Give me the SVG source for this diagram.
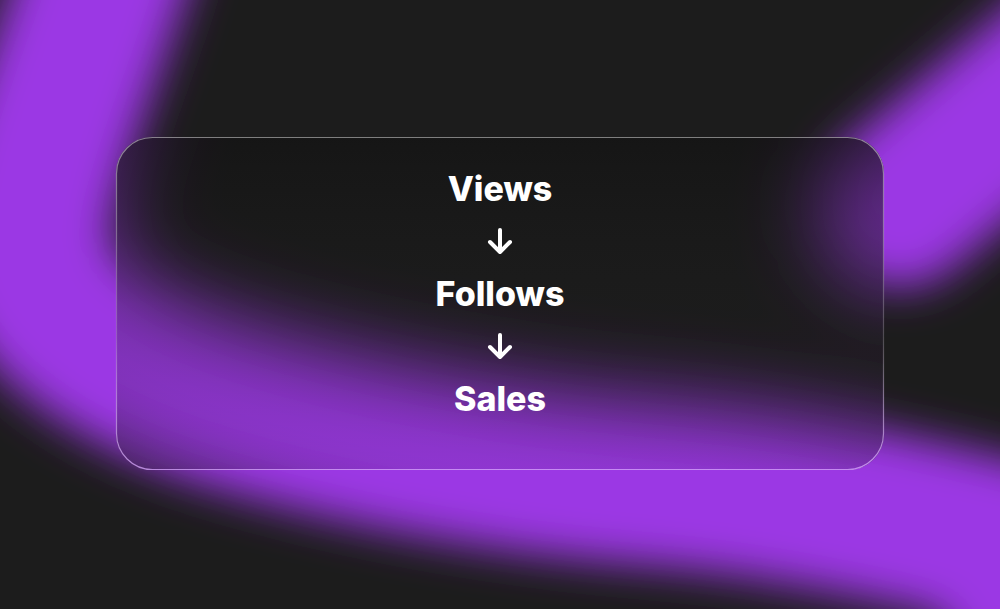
<svg xmlns="http://www.w3.org/2000/svg" width="1000" height="609" viewBox="0 0 1000 609">
  <style>
    .lbl { font-family: Inter, "Liberation Sans", sans-serif; font-weight: 800; font-size: 34px; fill: #ffffff; text-anchor: middle; }
    .arr { fill: none; stroke: #ffffff; stroke-width: 4; stroke-linecap: round; stroke-linejoin: round; }
  </style>
  <defs>
    <filter id="blur1" filterUnits="userSpaceOnUse" x="-300" y="-300" width="1600" height="1200">
      <feGaussianBlur stdDeviation="22"/>
    </filter>
    <filter id="blur2" filterUnits="userSpaceOnUse" x="-300" y="-300" width="1600" height="1200">
      <feGaussianBlur stdDeviation="40"/>
    </filter>
    <g id="blobs">
      <path d="M 115,-60 C 80,60 20,180 28,258 C 34,308 105,365 220,402 C 350,442 500,470 650,482 C 800,494 950,528 1100,570" fill="none" stroke="#9b37e4" stroke-width="168" stroke-linecap="round"/>
      <circle cx="1050" cy="590" r="110" fill="#9b37e4"/>
      <path d="M 900,205 L 1100,38" fill="none" stroke="#9b37e4" stroke-width="165" stroke-linecap="round"/>
    </g>
    <clipPath id="cardClip">
      <rect x="116" y="137" width="768" height="333" rx="36"/>
    </clipPath>
    <linearGradient id="cardShade" x1="0" y1="0" x2="0" y2="1">
      <stop offset="0" stop-color="#111111" stop-opacity="0.6"/>
      <stop offset="0.5" stop-color="#1a1a1a" stop-opacity="0.25"/>
      <stop offset="1" stop-color="#1a1a1a" stop-opacity="0.08"/>
    </linearGradient>
    <linearGradient id="cardStroke" x1="0" y1="0" x2="0" y2="1">
      <stop offset="0" stop-color="#ffffff" stop-opacity="0.45"/>
      <stop offset="0.6" stop-color="#ffffff" stop-opacity="0.2"/>
      <stop offset="1" stop-color="#d9a8ff" stop-opacity="0.75"/>
    </linearGradient>
  </defs>

  <g id="background">
    <rect x="0" y="0" width="1000" height="609" fill="#1c1c1c"/>
    <use href="#blobs" filter="url(#blur1)"/>
  </g>

  <g id="card">
    <g clip-path="url(#cardClip)">
      <rect x="116" y="137" width="768" height="333" fill="#1c1c1c"/>
      <use href="#blobs" filter="url(#blur2)"/>
      <rect x="116" y="137" width="768" height="333" fill="url(#cardShade)"/>
    </g>
    <rect x="116.5" y="137.5" width="767" height="332" rx="36" fill="none" stroke="url(#cardStroke)" stroke-width="1.2"/>
  </g>

  <g id="node-views">
    <text class="lbl" x="500" y="201">Views</text>
  </g>
  <g id="node-follows">
    <text class="lbl" x="500" y="306">Follows</text>
  </g>
  <g id="node-sales">
    <text class="lbl" x="500" y="411">Sales</text>
  </g>

  <g id="connectors">
    <path class="arr" d="M500,230 V251 M490,242 L500,252 L510,242"/>
    <path class="arr" d="M500,335 V356 M490,347 L500,357 L510,347"/>
  </g>
</svg>
